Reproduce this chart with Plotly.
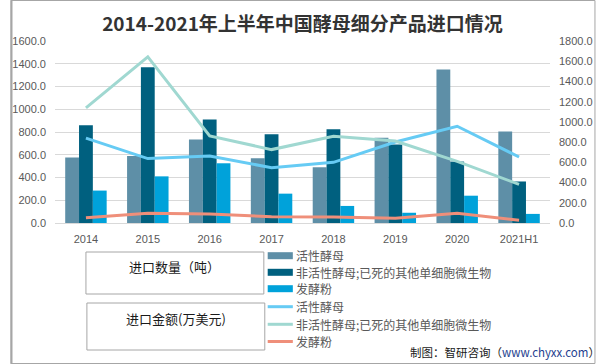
import plotly.graph_objects as go

categories = ["2014", "2015", "2016", "2017", "2018", "2019", "2020", "2021H1"]

# 进口数量（吨）- bars, left axis
qty_active = [575, 590, 735, 570, 490, 750, 1350, 805]
qty_inactive = [860, 1370, 910, 780, 825, 690, 540, 365]
qty_powder = [285, 410, 525, 258, 150, 90, 240, 80]

# 进口金额（万美元）- lines, right axis
amt_active = [840, 637, 663, 547, 600, 801, 957, 653]
amt_inactive = [1138, 1644, 861, 726, 858, 811, 610, 382]
amt_powder = [53, 96, 89, 63, 60, 46, 96, 27]

series_names = ["活性酵母", "非活性酵母;已死的其他单细胞微生物", "发酵粉"]
bar_colors = ["#5E8FA7", "#00607F", "#00A2DA"]
line_colors = ["#66CBF4", "#A0D8D1", "#EF8F7A"]

W, H = 605, 364
L, R, T, B = 46, 47, 41, 141
PW, PH = W - L - R, H - T - B


def px(x):
    return (x - L) / PW


def py(y):
    return (H - B - y) / PH


fig = go.Figure()
for name, vals, col in zip(series_names, [qty_active, qty_inactive, qty_powder], bar_colors):
    fig.add_trace(go.Bar(x=categories, y=vals, name=name, marker_color=col,
                         marker_line_width=0, showlegend=False, yaxis="y"))
for name, vals, col in zip(series_names, [amt_active, amt_inactive, amt_powder], line_colors):
    fig.add_trace(go.Scatter(x=categories, y=vals, name=name, mode="lines",
                             line=dict(color=col, width=3), showlegend=False, yaxis="y2"))

tick_font = dict(family="Liberation Sans, Arial, sans-serif", size=11, color="#595959")

shapes = []
annotations = []

# whole-image border
shapes.append(dict(type="rect", xref="paper", yref="paper",
                   x0=px(0.5), x1=px(W - 0.5), y0=py(H - 0.5), y1=py(0.5),
                   line=dict(color="#A6A6A6", width=1), fillcolor="rgba(0,0,0,0)", layer="below"))
shapes.append(dict(type="line", xref="paper", yref="paper",
                   x0=px(1), x1=px(1), y0=py(H), y1=py(0),
                   line=dict(color="#A6A6A6", width=2), layer="below"))

# group boxes
for (x0, x1, y0, y1, txt, ty) in [(78, 262, 252, 294, "进口数量（吨）", 266),
                                  (79, 263, 303, 350, "进口金额(万美元)", 318)]:
    shapes.append(dict(type="rect", xref="paper", yref="paper",
                       x0=px(x0), x1=px(x1), y0=py(y1), y1=py(y0),
                       line=dict(color="#A6A6A6", width=1), fillcolor="rgba(0,0,0,0)"))
    annotations.append(dict(x=px((x0 + x1) / 2), y=py(ty), xref="paper", yref="paper",
                            text=txt, showarrow=False, xanchor="center", yanchor="middle",
                            font=dict(family="Noto Sans CJK SC", size=13, color="#1A1A1A")))

# manual legend
leg_y = [255.7, 272.3, 288.7, 306.7, 324.3, 341.5]
leg_colors = bar_colors + line_colors
leg_names = series_names + series_names
for i, (yy, col, nm) in enumerate(zip(leg_y, leg_colors, leg_names)):
    if i < 3:
        shapes.append(dict(type="rect", xref="paper", yref="paper",
                           x0=px(266), x1=px(292), y0=py(yy + 3.5), y1=py(yy - 3.5),
                           line=dict(width=0), fillcolor=col))
    else:
        shapes.append(dict(type="line", xref="paper", yref="paper",
                           x0=px(266), x1=px(292), y0=py(yy), y1=py(yy),
                           line=dict(color=col, width=3)))
    annotations.append(dict(x=px(293), y=py(yy), xref="paper", yref="paper",
                            text=nm, showarrow=False, xanchor="left", yanchor="middle",
                            font=dict(family="Noto Sans CJK SC", size=12, color="#595959")))

# footer
annotations.append(dict(x=px(612), y=py(352), xref="paper", yref="paper",
                        text="制图：智研咨询（<span style='color:#1F3F8F'>www.chyxx.com</span>）",
                        showarrow=False, xanchor="right", yanchor="middle",
                        font=dict(family="Noto Sans CJK SC", size=11.5, color="#1A1A1A")))

fig.update_layout(
    width=W, height=H,
    margin=dict(l=L, r=R, t=T, b=B),
    paper_bgcolor="white", plot_bgcolor="white",
    title=dict(text="<b>2014-2021年上半年中国酵母细分产品进口情况</b>",
               x=0.5, xref="container", xanchor="center",
               y=1 - 24 / H, yref="container", yanchor="middle",
               font=dict(family="Noto Sans CJK SC", size=19, color="#333333")),
    barmode="group", bargap=0.33, bargroupgap=0,
    xaxis=dict(type="category", showgrid=False, showline=True, linecolor="#D9D9D9",
               linewidth=1, ticks="", tickfont=tick_font, ticklabelstandoff=6),
    yaxis=dict(range=[0, 1600], dtick=200, tickformat=".1f", showgrid=True,
               gridcolor="#D9D9D9", gridwidth=1, zeroline=False, showline=False,
               tickfont=tick_font, ticks="", ticklabelstandoff=8),
    yaxis2=dict(range=[0, 1800], dtick=200, tickformat=".1f", overlaying="y",
                side="right", showgrid=False, zeroline=False, showline=False,
                tickfont=tick_font, ticks="", ticklabelstandoff=8),
    shapes=shapes, annotations=annotations,
    showlegend=False,
)

fig.write_html("out.html", config={"displayModeBar": False},
               post_script="document.body.style.margin='0';document.body.style.padding='0';")
